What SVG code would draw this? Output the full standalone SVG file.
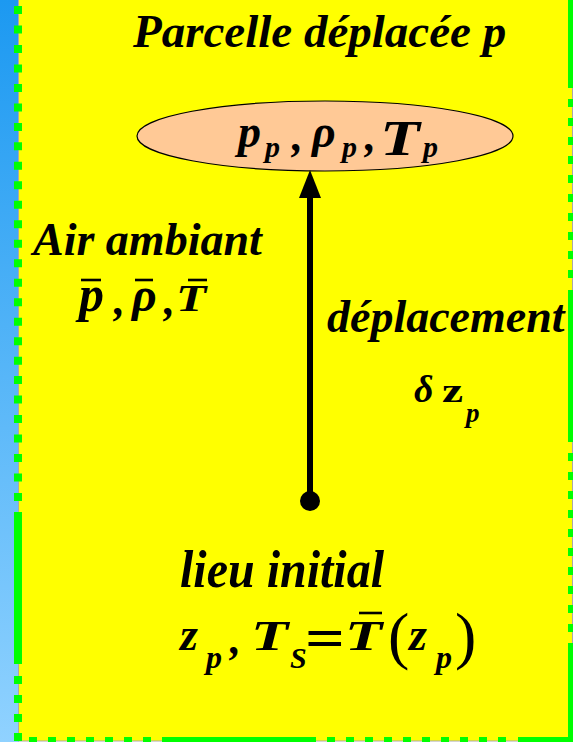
<svg xmlns="http://www.w3.org/2000/svg" width="573" height="742" viewBox="0 0 573 742">
<defs>
<linearGradient id="blue" x1="0" y1="0" x2="0" y2="1">
<stop offset="0" stop-color="#1C99F1"/>
<stop offset="1" stop-color="#90D2FF"/>
</linearGradient>
<marker id="ah" markerUnits="userSpaceOnUse" markerWidth="28" markerHeight="22" refX="0" refY="11" orient="auto" viewBox="0 0 28 22">
<polygon points="0,0 28,11 0,22" fill="#000"/>
</marker>
<style>
.t{font-family:"Liberation Serif","Times New Roman",serif;font-weight:bold;font-style:italic;fill:#000}
.g{stroke:#00FF00;stroke-width:8;fill:none}
.d{stroke-dasharray:8 11}
.up{font-style:normal}
.thin{font-weight:normal;font-style:normal}
.bar{stroke:#000;stroke-width:2.6}
</style>
</defs>
<rect x="0" y="0" width="19" height="742" fill="url(#blue)"/>
<rect x="18.5" y="-2" width="554" height="743" fill="#FFFF00" stroke="#A8A8A8" stroke-width="1"/>
<g id="border">
<line class="g" x1="18" y1="6" x2="18" y2="505" stroke-dasharray="8 11.48"/>
<line class="g" x1="18" y1="512" x2="18" y2="664"/>
<line class="g d" x1="18" y1="676" x2="18" y2="742"/>
<line class="g" x1="572" y1="0" x2="572" y2="88"/>
<line class="g d" x1="572" y1="99" x2="572" y2="279"/>
<line class="g" x1="572" y1="290" x2="572" y2="442"/>
<line class="g d" x1="572" y1="453" x2="572" y2="633"/>
<line class="g" x1="572" y1="643" x2="572" y2="742"/>
<line class="g d" x1="29" y1="741" x2="151" y2="741"/>
<line class="g" x1="162" y1="741" x2="316" y2="741"/>
<line class="g d" x1="327" y1="741" x2="507" y2="741"/>
<line class="g" x1="518" y1="741" x2="573" y2="741"/>
</g>
<g id="title">
<text class="t" x="133" y="47" font-size="47">Parcelle déplacée p</text>
</g>
<g id="parcel">
<ellipse cx="325" cy="136" rx="188" ry="35" fill="#FFC996" stroke="#000" stroke-width="1.2"/>
<text class="t" y="147"><tspan x="238" font-size="46">p</tspan><tspan x="265" y="157" font-size="30">p</tspan><tspan x="292" y="151" font-size="44">,</tspan><tspan x="312" y="147" font-size="46">ρ</tspan><tspan x="342" y="157" font-size="30">p</tspan><tspan x="365" y="151" font-size="44">,</tspan><tspan x="423" y="157" font-size="30">p</tspan></text>
<text class="t" transform="translate(380,155) scale(1.3,1)" font-size="50">T</text>
</g>
<g id="ambient">
<text class="t" x="33" y="255" font-size="46">Air ambiant</text>
<text class="t" y="311"><tspan x="79" font-size="50">p</tspan><tspan x="114" y="315" font-size="44">,</tspan><tspan x="132" y="311" font-size="48">ρ</tspan><tspan x="164" y="315" font-size="44">,</tspan></text>
<text class="t" transform="translate(176,311) scale(1.3,1)" font-size="38">T</text>
<line class="bar" x1="81" y1="280" x2="101" y2="280"/>
<line class="bar" x1="135" y1="280" x2="153" y2="280"/>
<line class="bar" x1="188" y1="280" x2="207" y2="280"/>
</g>
<g id="displacement">
<text class="t" x="327" y="332" font-size="46">déplacement</text>
<text class="t" y="402"><tspan x="414" font-size="38">δ</tspan><tspan x="466" y="422" font-size="27">p</tspan></text>
<text class="t up" transform="translate(442,402) scale(1.4,1)" font-size="34">z</text>
</g>
<g id="initial">
<text class="t" transform="translate(180,587) scale(1,1.08)" font-size="48">lieu initial</text>
<text class="t" y="650"><tspan x="180" font-size="46">z</tspan><tspan x="206" y="668" font-size="32">p</tspan><tspan x="230" y="654" font-size="44">,</tspan><tspan x="290" y="668" font-size="30">S</tspan><tspan x="409" y="650" font-size="46">z</tspan><tspan x="436" y="668" font-size="32">p</tspan></text>
<text class="t" transform="translate(251,650) scale(1.45,1)" font-size="42">T</text>
<text class="t up" transform="translate(305,657) scale(1.25,1)" font-size="56">=</text>
<text class="t" transform="translate(345,650) scale(1.45,1)" font-size="42">T</text>
<line class="bar" x1="359" y1="613" x2="382" y2="613" stroke-width="3"/>
<text class="t thin" y="657" font-size="64"><tspan x="388">(</tspan><tspan x="455">)</tspan></text>
</g>
<g id="connectors">
<line x1="310" y1="501" x2="310" y2="198" stroke="#000" stroke-width="6" marker-end="url(#ah)"/>
<circle cx="310" cy="501" r="10" fill="#000"/>
</g>
</svg>
